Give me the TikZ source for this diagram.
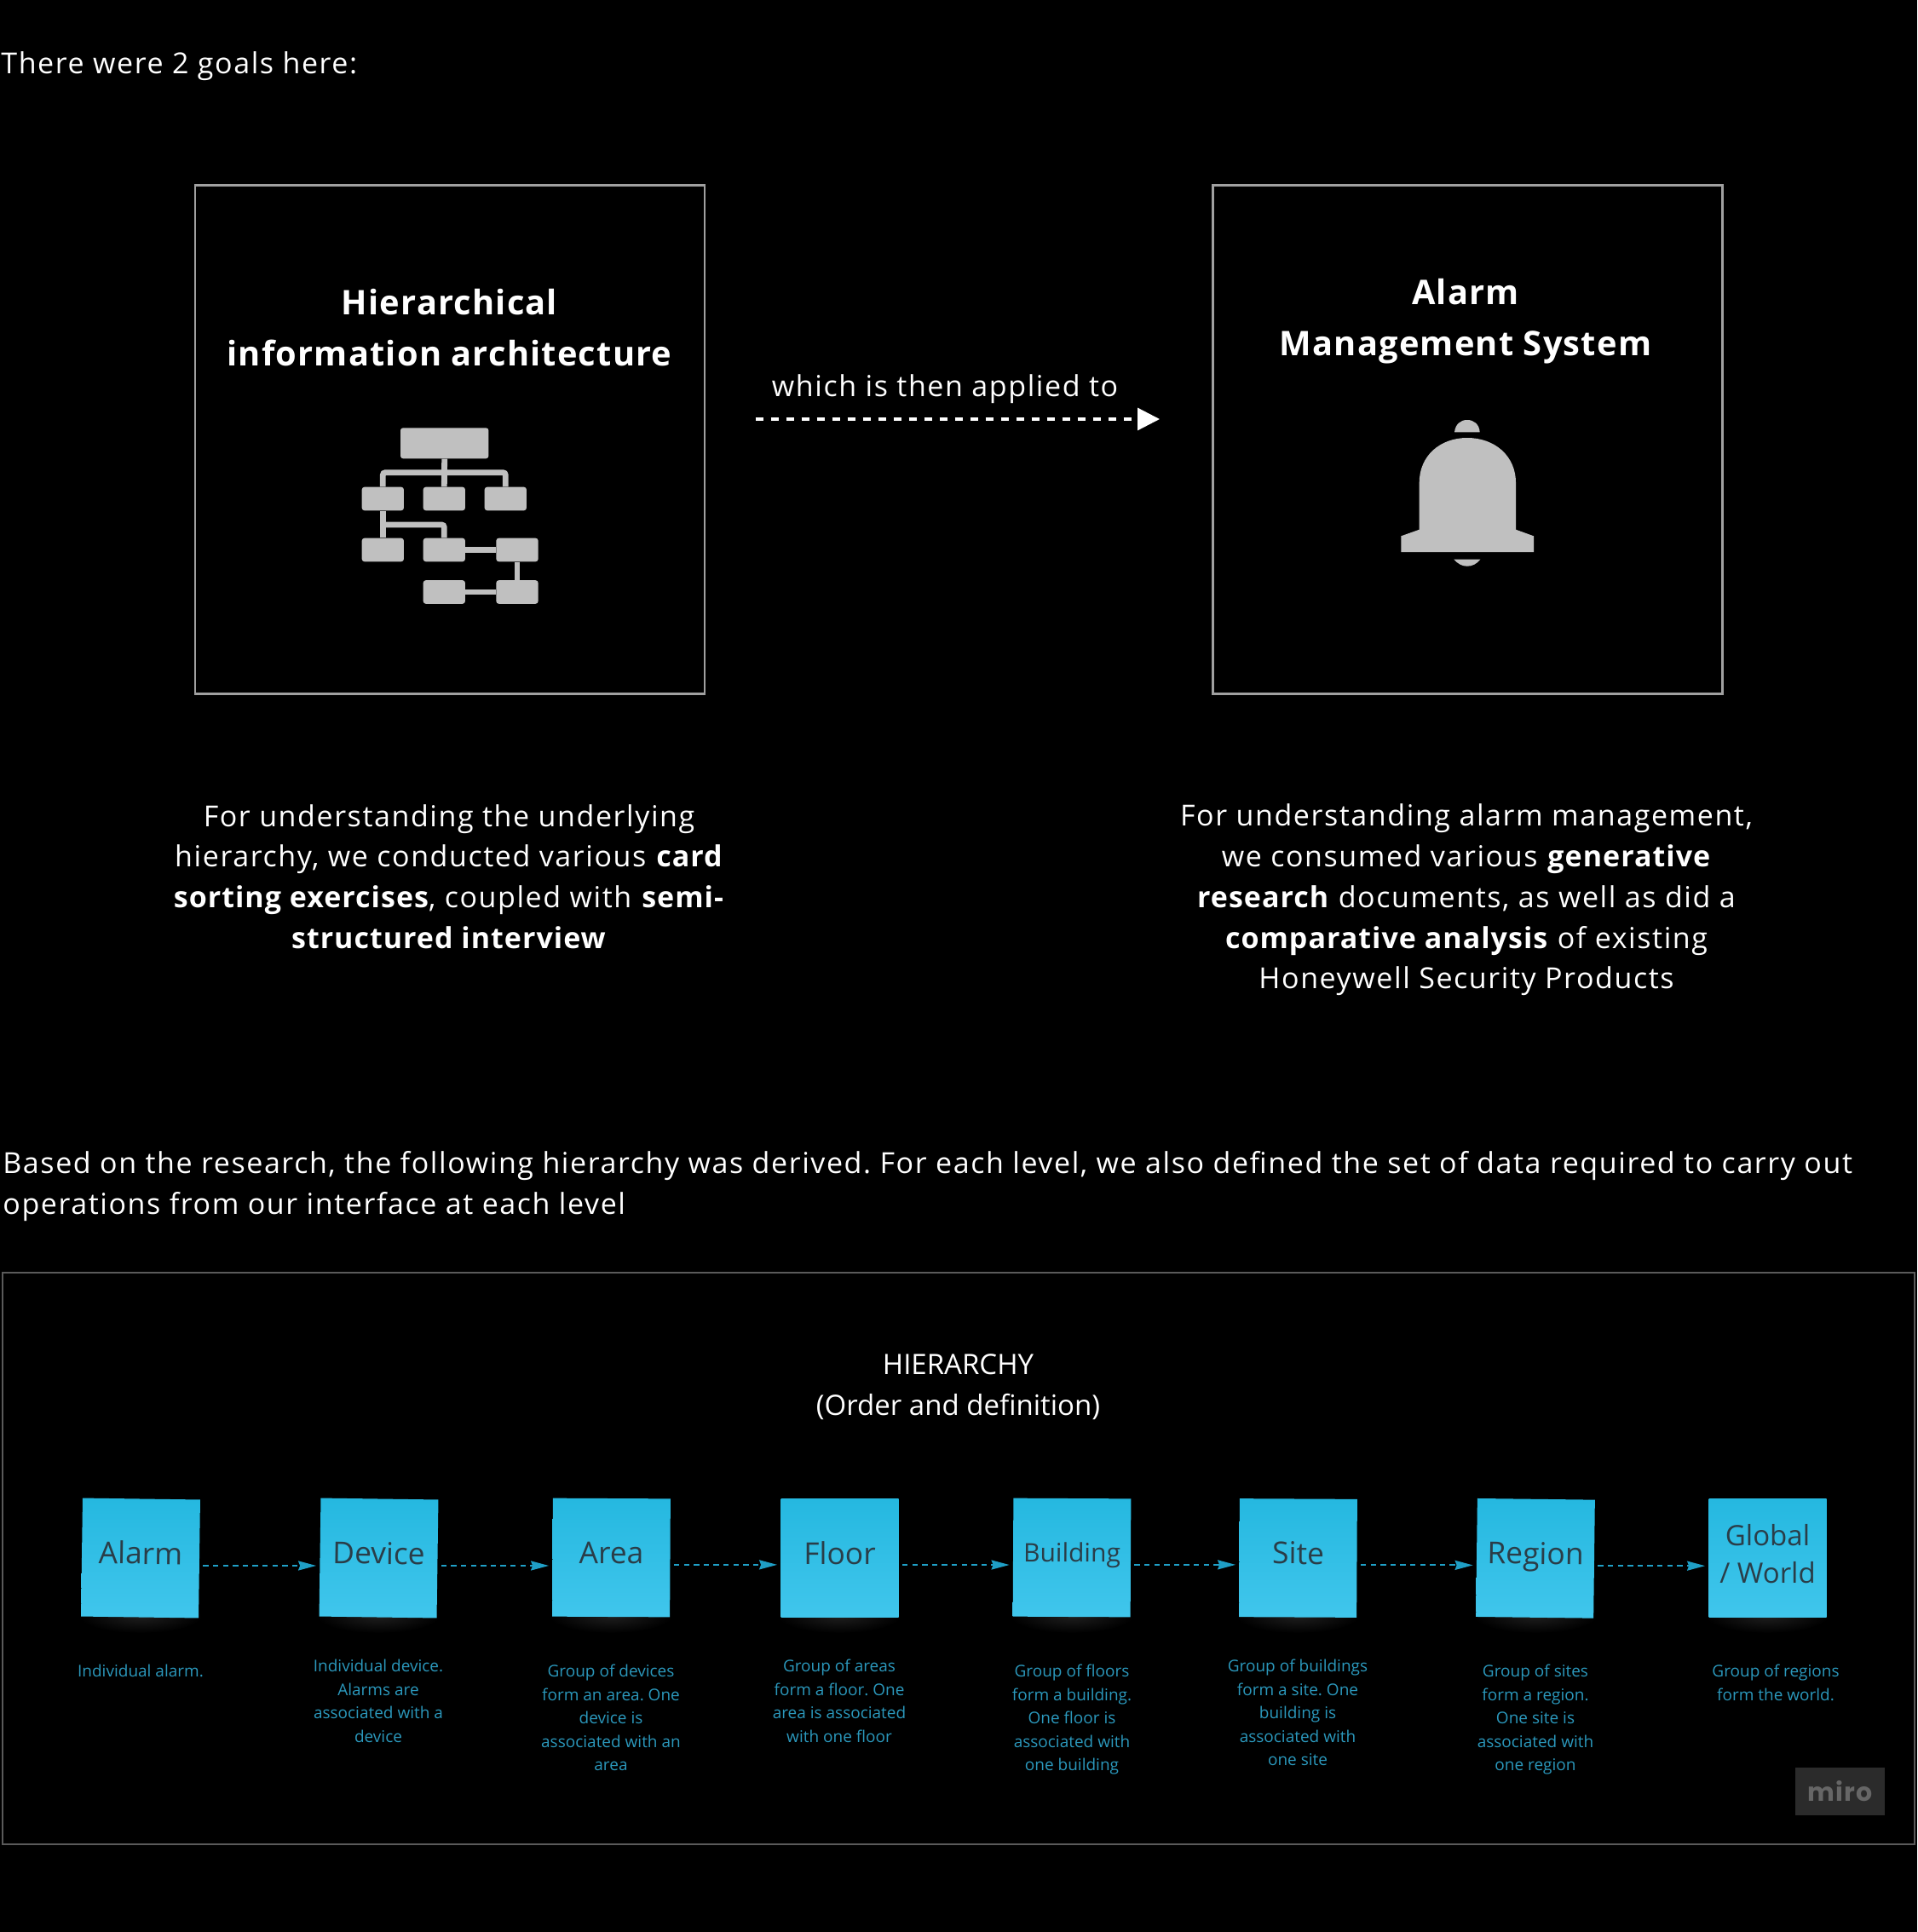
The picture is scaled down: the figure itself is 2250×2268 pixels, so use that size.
\documentclass[tikz,border=0pt]{standalone}
\usepackage{fontspec}
\setmainfont{Open Sans}
\newfontfamily\spaced[LetterSpace=4.65, BoldFeatures={LetterSpace=3}]{Open Sans}
\newfontfamily\mirofont[LetterSpace=4]{Poppins}
\usepackage{xcolor}
\usetikzlibrary{calc}
\usetikzlibrary{arrows.meta}

\definecolor{iconGray}{HTML}{C0C0C0}
\definecolor{boxGray}{HTML}{A0A0A0}
\definecolor{frameGray}{HTML}{5A5A5A}
\definecolor{noteTop}{HTML}{25B8E0}
\definecolor{noteMid}{HTML}{22BAE4}
\definecolor{noteBottom}{HTML}{40C6EC}
\definecolor{noteInk}{HTML}{2A3D48}
\definecolor{noteLabel}{HTML}{2B98BC}
\definecolor{noteArrow}{HTML}{1F9FC6}

\frenchspacing

\begin{document}
\begin{tikzpicture}[x=0.5pt, y=-0.5pt]

\tikzset{
    body/.style = {
    text=white, inner sep=0pt, align=center,
    font=\spaced\fontsize{17}{23.9}\selectfont
    },
    title/.style = {
    body, font=\spaced\bfseries\fontsize{19.9}{30}\selectfont
    },
    goalbox/.style = {
    draw=boxGray, line width=1.4pt, minimum width=299pt, minimum height=298.5pt, inner sep=0pt
    },
    orgbox/.style = {
    fill=iconGray, rounded corners=1.5pt, inner sep=0pt, minimum width=24.6pt, minimum height=13.8pt
    },
    orgline/.style = {
    draw=iconGray, line width=3.4pt, rounded corners=1.5pt
    },
    note/.style = {
    top color=noteTop, middle color=noteMid, bottom color=noteBottom, minimum width=69pt, minimum height=69.5pt,
    inner sep=0pt, text=noteInk, align=center, text height=10pt, text depth=3pt,
    font=\fontsize{17.7}{22.15}\selectfont
    },
    notelabel/.style = {
    text=noteLabel, inner sep=0pt, align=center, anchor=north, font=\fontsize{9.5}{13.75}\selectfont
    },
    notearrow/.style = {
    draw=noteArrow, line width=1pt, dash pattern=on 3.2pt off 2.6pt,
    -{Stealth[length=10.5pt, width=5.5pt, inset=1pt]}
    },
    noteshadow/.style = {
    inner color=black!88!white, outer color=black
    }
}

\fill[black] (0,0) rectangle (2250,2268);
\useasboundingbox (0,0) rectangle (2250,2268);

\node (intro) [body, anchor=west] at (1,78) {There were 2 goals here:};

% upper boxes
\node (goal-a) [goalbox] at (528,516) {};
\node (goal-b) [goalbox] at (1722.5,516) {};

\node (title-a) [title] at (527.5,385) {Hierarchical\\information architecture};
\node (title-b) [title] at (1720,377) {Alarm\\Management System};

\coordinate (apply-start) at (886.5,492);
\coordinate (apply-end) at (1361,492);
\node (apply) [body] at (1109,457) {which is then applied to};
\draw[white, line width=1.6pt, dash pattern=on 4.5pt off 4.5pt, -{Triangle[length=13pt, width=13pt]}] (apply-start) -- (apply-end);

% org chart icon
\node (org-top) [orgbox, minimum width=51.7pt, minimum height=18pt] at (521.7,520.3) {};
\node (org-a) [orgbox] at (449.3,585.5) {};
\node (org-b) [orgbox] at (521.3,585.5) {};
\node (org-c) [orgbox] at (593.3,585.5) {};
\node (org-d) [orgbox] at (449.3,645.5) {};
\node (org-e) [orgbox] at (521.3,645.5) {};
\node (org-f) [orgbox] at (607,645.5) {};
\node (org-g) [orgbox] at (521.3,695) {};
\node (org-h) [orgbox] at (607,695) {};

\draw[orgline] (org-top.south) -- (org-b.north);
\draw[orgline] (org-a.north) |- (org-top.south |- 0,554.7) -| (org-c.north);
\draw[orgline] (org-a.south) -- (org-d.north);
\draw[orgline] (org-a.south |- 0,616) -| (org-e.north);
\draw[orgline] (org-e.east) -- (org-f.west);
\draw[orgline] (org-f.south) -- (org-h.north);
\draw[orgline] (org-g.east) -- (org-h.west);

% bell icon
\fill[iconGray] (1707,507.3) .. controls (1708,498) and (1714,493) .. (1721.8,493) .. controls (1730,493) and (1736,498) .. (1736.7,507.3) -- cycle;
\fill[iconGray] (1665.7,566.7) .. controls (1665.7,535) and (1690,514) .. (1722,514) .. controls (1754,514) and (1779,535) .. (1779,566.7)
    -- (1779,621.7) -- (1800,629.3) -- (1800,648) -- (1644.3,648) -- (1644.3,629.3) -- (1665.7,621.7) -- cycle;
\fill[iconGray] (1706.3,656.7) .. controls (1711,662) and (1716,664.7) .. (1721.8,664.7) .. controls (1728,664.7) and (1733,662) .. (1737.3,656.7) -- cycle;

\node (para-a) [body] at (527,1029) {For understanding the underlying\\hierarchy, we conducted various \textbf{card}\\\textbf{sorting exercises}, coupled with \textbf{semi-}\\\textbf{structured interview}};
\node (para-b) [body] at (1721,1056.5) {For understanding alarm management,\\we consumed various \textbf{generative}\\\textbf{research} documents, as well as did a\\\textbf{comparative analysis} of existing\\Honeywell Security Products};

\node (derived) [body, align=left, anchor=west] at (3,1392.5) {Based on the research, the following hierarchy was derived. For each level, we also defined the set of data required to carry out\\operations from our interface at each level};

% hierarchy frame
\node (frame) [draw=frameGray, line width=0.8pt, inner sep=0pt, minimum width=1122pt, minimum height=335.5pt] at (1125,1829.5) {};
\node (frame-title) [text=white, inner sep=0pt, align=center, font=\fontsize{16.5}{23.9}\selectfont] at (1124.5,1628) {HIERARCHY\\(Order and definition)};

\foreach \x in {165,444,717,985,1258,1523,1802,2074}
    \shade[noteshadow] (\x,1897) ellipse [x radius=72, y radius=20];

\node (n-alarm) [note, rotate=-0.8] at (165,1829) {Alarm};
\node (n-device) [note, rotate=-0.8] at (444.5,1829) {Device};
\node (n-area) [note, rotate=-0.3] at (717.5,1828.5) {Area};
\node (n-floor) [note] at (985.5,1829) {Floor};
\node (n-building) [note, font=\fontsize{15}{20}\selectfont, text height=9pt, text depth=4pt, rotate=-0.3] at (1258,1828.5) {Building};
\node (n-site) [note, rotate=-0.3] at (1523.5,1829) {Site};
\node (n-region) [note, rotate=-0.7] at (1802,1829.3) {Region};
\node (n-global) [note, font=\fontsize{16.5}{22.15}\selectfont, text height=35.5pt, text depth=6pt] at (2074.5,1829) {Global\\/ World};

\draw[notearrow] ($(n-alarm.east)+(4,8)$) -- ($(n-device.west |- n-alarm.east)+(-4,8)$);
\draw[notearrow] ($(n-device.east)+(4,8)$) -- ($(n-area.west |- n-device.east)+(-4,8)$);
\draw[notearrow] ($(n-area.east)+(4,8)$) -- ($(n-floor.west |- n-area.east)+(-4,8)$);
\draw[notearrow] ($(n-floor.east)+(4,8)$) -- ($(n-building.west |- n-floor.east)+(-4,8)$);
\draw[notearrow] ($(n-building.east)+(4,8)$) -- ($(n-site.west |- n-building.east)+(-4,8)$);
\draw[notearrow] ($(n-site.east)+(4,8)$) -- ($(n-region.west |- n-site.east)+(-4,8)$);
\draw[notearrow] ($(n-region.east)+(4,8)$) -- ($(n-global.west |- n-region.east)+(-4,8)$);

\node (l-alarm) [notelabel] at (165,1954) {Individual alarm.};
\node (l-device) [notelabel] at (444,1948) {Individual device.\\Alarms are\\associated with a\\device};
\node (l-area) [notelabel] at (717,1954) {Group of devices\\form an area. One\\device is\\associated with an\\area};
\node (l-floor) [notelabel] at (985,1948) {Group of areas\\form a floor. One\\area is associated\\with one floor};
\node (l-building) [notelabel] at (1258,1954) {Group of floors\\form a building.\\One floor is\\associated with\\one building};
\node (l-site) [notelabel] at (1523,1948) {Group of buildings\\form a site. One\\building is\\associated with\\one site};
\node (l-region) [notelabel] at (1802,1954) {Group of sites\\form a region.\\One site is\\associated with\\one region};
\node (l-global) [notelabel] at (2084,1954) {Group of regions\\form the world.};

\node (miro) [fill=black!83!white, text=black!60!white, inner sep=0pt, minimum width=52.5pt, minimum height=28pt, font=\mirofont\bfseries\fontsize{15}{15}\selectfont] at (2159.5,2103) {miro};

\end{tikzpicture}
\end{document}
